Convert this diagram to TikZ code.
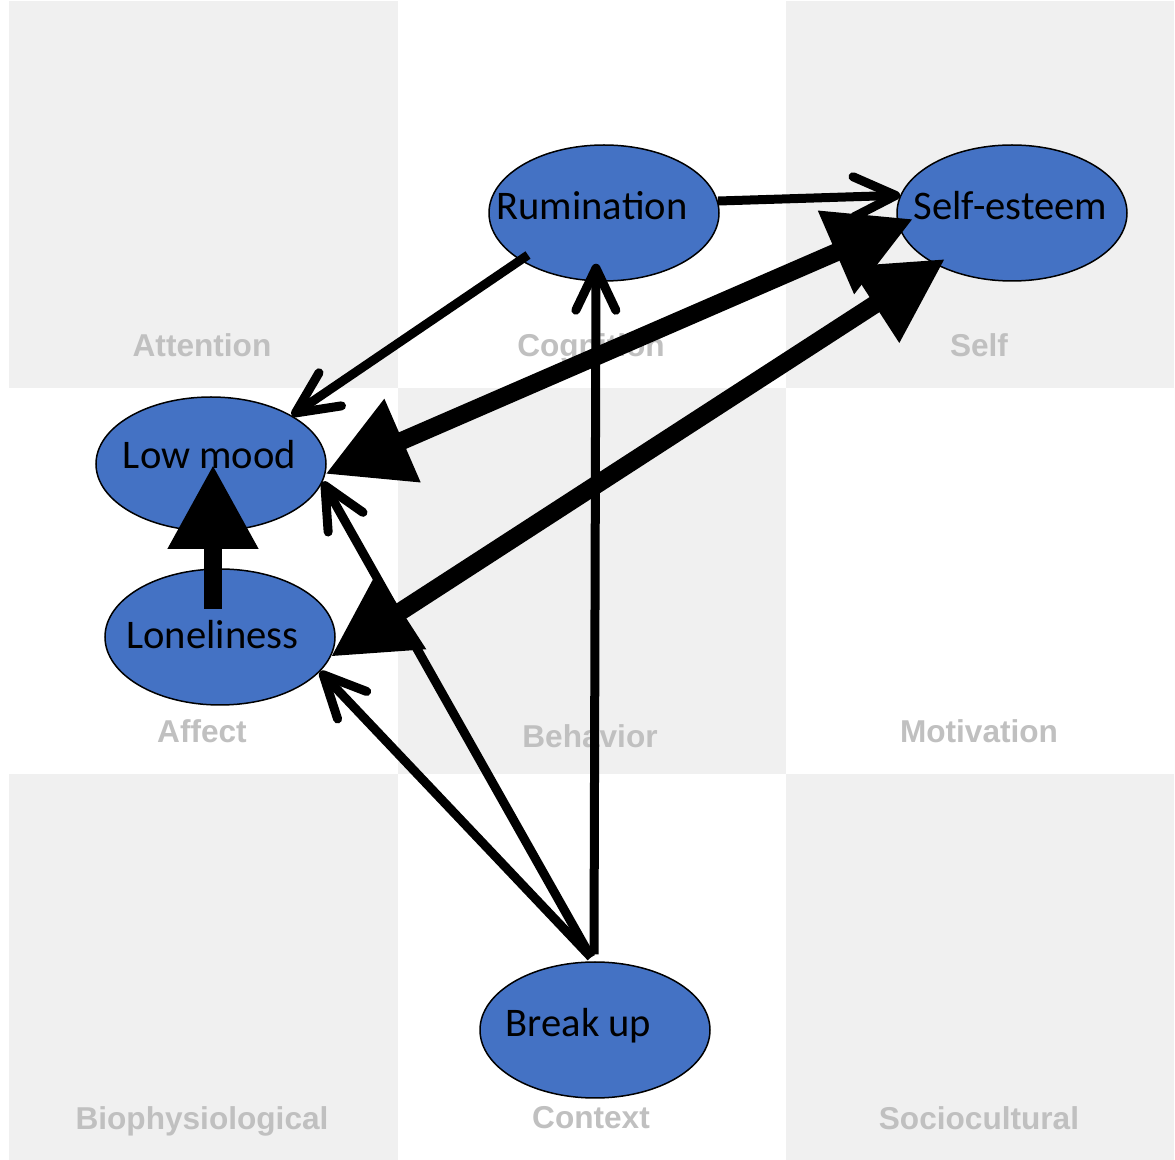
\documentclass[tikz,border=0pt]{standalone}
\usepackage{fontspec}
\setmainfont{Carlito}
\newfontfamily\catfont{Liberation Sans}
\usetikzlibrary{arrows.meta,shapes.geometric,calc}

\definecolor{cellgray}{RGB}{240,240,240}
\definecolor{catgray}{RGB}{192,192,192}
\definecolor{nodeblue}{RGB}{68,114,196}

\begin{document}
\begin{tikzpicture}[x=0.5pt,y=-0.5pt,
  cell/.style={fill=cellgray,draw=none},
  cat/.style={font=\catfont\bfseries\fontsize{15.8pt}{18pt}\selectfont,text=catgray,anchor=base,inner sep=0pt},
  factor/.style={ellipse,draw=black,line width=0.75pt,fill=nodeblue,inner sep=0pt,minimum width=115pt,minimum height=68pt},
  lbl/.style={font=\fontsize{20.3pt}{24pt}\selectfont,anchor=base,inner sep=0pt,text=black},
  thinlink/.style={line width=4.5pt,-{Straight Barb[length=21pt,width=20pt,line cap=round,line join=round]}},
  thicklink/.style={line width=9pt,-{Triangle[length=42pt,width=43pt]}},
  bothlink/.style={line width=9pt,{Triangle[length=42pt,width=43pt]}-{Triangle[length=42pt,width=43pt]}},
]
\useasboundingbox (0,0) rectangle (1175,1160);
\fill[white] (0,0) rectangle (1175,1160);

% checkerboard of domains
\fill[cell] (9,1.5) rectangle (397.5,388);
\fill[cell] (785.5,1.5) rectangle (1174,388);
\fill[cell] (397.5,388) rectangle (785.5,774);
\fill[cell] (9,774) rectangle (397.5,1160);
\fill[cell] (785.5,774) rectangle (1174,1160);

% domain names
\node[cat] (attention) at (202,357) {Attention};
\node[cat] (cognition) at (591,357) {Cognition};
\node[cat] (selfdom)   at (979,357) {Self};
\node[cat] (affect)    at (202,743) {Affect};
\node[cat] (behavior)  at (590,748) {Behavior};
\node[cat] (motiv)     at (979,743) {Motivation};
\node[cat] (biophys)   at (202,1130) {Biophysiological};
\node[cat] (context)   at (591,1129) {Context};
\node[cat] (sociocult) at (979,1130) {Sociocultural};

% factors
\node[factor] (rum)  at (604,213) {};
\node[factor] (self) at (1012,213) {};
\node[factor,minimum height=67pt] (low) at (211,464) {};
\node[factor] (lone) at (220,637) {};
\node[factor] (brk)  at (595,1030) {};

\node[lbl] (rumtext)  at (592,220)    {Rumination};
\node[lbl] (selftext) at (1010.5,220) {Self-esteem};
\node[lbl] (lowtext)  at (209.5,469)  {Low mood};
\node[lbl] (lonetext) at (212.5,649)  {Loneliness};
\node[lbl] (brktext)  at (578.5,1037) {Break up};

% links
\coordinate (hub) at ($(brk.north)+(-4,-4)$);
\draw[thinlink] (rum.6) -- (self.171.5);
\draw[thinlink] ($(rum.center)+(-76,42)$) -- (low.31);
\draw[thinlink] ($(brk.north)+(-1,-7)$) -- ($(rum.south)+(-8,-18)$);
\draw[thinlink] (hub) -- (low.-9.5);
\draw[thinlink] (hub) -- (lone.-19);
\draw[bothlink] (low.-5.5) -- ($(self.center)+(-99,6)$);
\draw[bothlink] (lone.-10) -- ($(self.center)+(-67,46)$);
\draw[thicklink] ($(lone.center)+(-7,-28)$) -- ($(low.center)+(2,1)$);
\end{tikzpicture}
\end{document}
